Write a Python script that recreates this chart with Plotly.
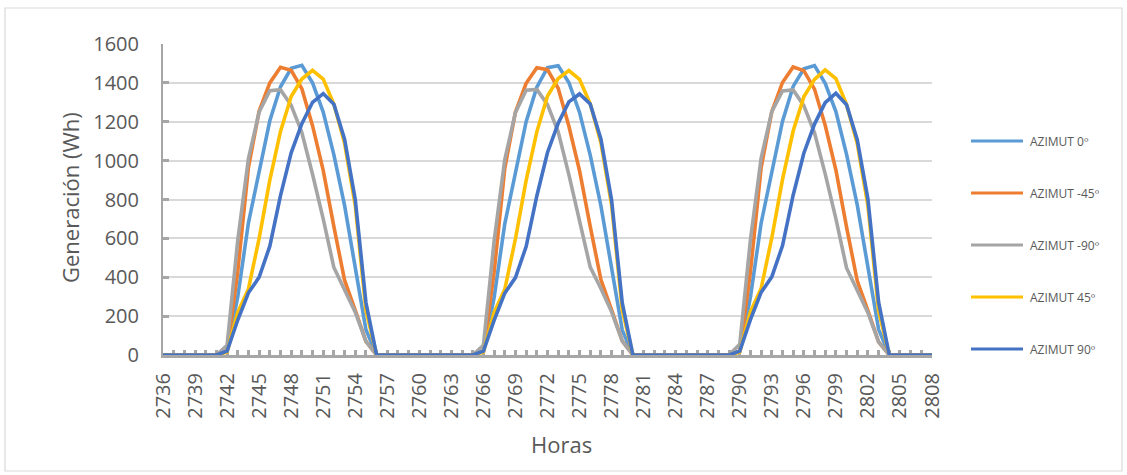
import plotly.graph_objects as go

# Hours on the x axis (2736 .. 2808)
horas = list(range(2736, 2809))
tick_horas = list(range(2736, 2809, 3))

# Hourly generation (Wh) per azimuth, three consecutive days plus the closing hour
az_0_d1 = [0, 0, 0, 0, 0, 0, 20, 300, 680, 950, 1205, 1380, 1475, 1490, 1400, 1250, 1030, 770, 450, 130, 0, 0, 0, 0]
az_0_d2 = [0, 0, 0, 0, 0, 0, 20, 295, 675, 945, 1200, 1378, 1478, 1488, 1402, 1248, 1028, 768, 448, 128, 0, 0, 0, 0]
az_0_d3 = [0, 0, 0, 0, 0, 0, 20, 298, 678, 948, 1202, 1382, 1472, 1489, 1398, 1252, 1032, 772, 452, 132, 0, 0, 0, 0]

az_m45_d1 = [0, 0, 0, 0, 0, 0, 20, 430, 965, 1255, 1400, 1480, 1465, 1370, 1180, 950, 660, 385, 230, 70, 0, 0, 0, 0]
az_m45_d2 = [0, 0, 0, 0, 0, 0, 20, 425, 960, 1250, 1398, 1478, 1468, 1372, 1178, 948, 662, 388, 232, 72, 0, 0, 0, 0]
az_m45_d3 = [0, 0, 0, 0, 0, 0, 20, 428, 962, 1252, 1402, 1482, 1463, 1368, 1182, 952, 658, 382, 228, 68, 0, 0, 0, 0]

az_m90_d1 = [0, 0, 0, 0, 0, 0, 50, 590, 1010, 1250, 1360, 1365, 1285, 1145, 930, 700, 450, 340, 220, 70, 0, 0, 0, 0]
az_m90_d2 = [0, 0, 0, 0, 0, 0, 50, 585, 1005, 1248, 1362, 1366, 1288, 1148, 928, 698, 452, 342, 222, 72, 0, 0, 0, 0]
az_m90_d3 = [0, 0, 0, 0, 0, 0, 55, 592, 1012, 1252, 1358, 1364, 1283, 1143, 932, 702, 448, 338, 218, 68, 0, 0, 0, 0]

az_45_d1 = [0, 0, 0, 0, 0, 0, 15, 220, 340, 600, 900, 1150, 1330, 1420, 1465, 1420, 1290, 1090, 770, 230, 0, 0, 0, 0]
az_45_d2 = [0, 0, 0, 0, 0, 0, 15, 218, 338, 598, 898, 1148, 1332, 1422, 1463, 1418, 1292, 1092, 772, 232, 0, 0, 0, 0]
az_45_d3 = [0, 0, 0, 0, 0, 0, 15, 222, 342, 602, 902, 1152, 1328, 1418, 1467, 1422, 1288, 1088, 768, 228, 0, 0, 0, 0]

az_90_d1 = [0, 0, 0, 0, 0, 0, 20, 180, 320, 400, 560, 820, 1040, 1190, 1300, 1345, 1290, 1110, 800, 270, 0, 0, 0, 0]
az_90_d2 = [0, 0, 0, 0, 0, 0, 20, 178, 318, 398, 558, 818, 1042, 1192, 1302, 1343, 1292, 1112, 798, 268, 0, 0, 0, 0]
az_90_d3 = [0, 0, 0, 0, 0, 0, 20, 182, 322, 402, 562, 822, 1038, 1188, 1298, 1347, 1288, 1108, 802, 272, 0, 0, 0, 0]

cierre = [0]

series_names = ["AZIMUT 0º", "AZIMUT -45º", "AZIMUT -90º", "AZIMUT 45º", "AZIMUT 90º"]
series_values = [
    az_0_d1 + az_0_d2 + az_0_d3 + cierre,
    az_m45_d1 + az_m45_d2 + az_m45_d3 + cierre,
    az_m90_d1 + az_m90_d2 + az_m90_d3 + cierre,
    az_45_d1 + az_45_d2 + az_45_d3 + cierre,
    az_90_d1 + az_90_d2 + az_90_d3 + cierre,
]
series_colors = ["#5B9BD5", "#ED7D31", "#A5A5A5", "#FFC000", "#4472C4"]

W, H = 1127, 475
L, R, T, B = 163, 195, 44, 120
plot_w = W - L - R
plot_h = H - T - B


def px_to_paper_x(x):
    return (x - L) / plot_w


def px_to_paper_y(y):
    return (H - B - y) / plot_h


FONT = "Open Sans"
TEXT = "#595959"
AXIS = "#A6A6A6"
GRID = "#D9D9D9"

fig = go.Figure()
for name, vals, col in zip(series_names, series_values, series_colors):
    fig.add_trace(go.Scatter(
        x=horas, y=vals, mode="lines", name=name,
        line=dict(color=col, width=3.6),
        showlegend=False,
    ))

fig.update_layout(
    width=W, height=H,
    margin=dict(l=L, r=R, t=T, b=B),
    paper_bgcolor="white", plot_bgcolor="white",
    font=dict(family=FONT, color=TEXT),
    xaxis=dict(
        range=[2736, 2808], tickmode="array", tickvals=tick_horas,
        ticktext=[str(h) for h in tick_horas],
        tickangle=-90, tickfont=dict(size=20, color=TEXT, family=FONT),
        showgrid=False, zeroline=False,
        showline=True, linecolor=AXIS, linewidth=3,
        ticks="inside", ticklen=5, tickwidth=2.5, tickcolor=AXIS,
        minor=dict(dtick=1, tick0=2736, ticks="inside", ticklen=5,
                   tickwidth=2.5, tickcolor=AXIS, showgrid=False),
        ticklabelstandoff=7,
        layer="below traces",
    ),
    yaxis=dict(
        range=[0, 1600], dtick=200, tick0=0,
        tickfont=dict(size=20, color=TEXT, family=FONT),
        showgrid=True, gridcolor=GRID, gridwidth=1.5, zeroline=False,
        showline=True, linecolor=AXIS, linewidth=2,
        ticks="inside", ticklen=6, tickwidth=2.5, tickcolor=AXIS,
        ticklabelstandoff=18,
        layer="below traces",
    ),
)

# Outer chart border
fig.add_shape(type="rect", xref="paper", yref="paper",
              x0=px_to_paper_x(5), x1=px_to_paper_x(1122),
              y0=px_to_paper_y(471), y1=px_to_paper_y(8),
              line=dict(color=GRID, width=1.2), fillcolor="rgba(0,0,0,0)", layer="below")

# Axis titles
fig.add_annotation(text="Generación (Wh)", xref="paper", yref="paper",
                   x=px_to_paper_x(70), y=px_to_paper_y(198), textangle=-90,
                   showarrow=False, font=dict(size=22, color=TEXT, family=FONT),
                   xanchor="center", yanchor="middle")
fig.add_annotation(text="Horas", xref="paper", yref="paper",
                   x=px_to_paper_x(561), y=px_to_paper_y(444),
                   showarrow=False, font=dict(size=22, color=TEXT, family=FONT),
                   xanchor="center", yanchor="middle")

# Legend on the right
legend_y = [141, 193, 245, 297, 349]
for name, col, ly in zip(series_names, series_colors, legend_y):
    fig.add_shape(type="line", xref="paper", yref="paper",
                  x0=px_to_paper_x(971), x1=px_to_paper_x(1023),
                  y0=px_to_paper_y(ly), y1=px_to_paper_y(ly),
                  line=dict(color=col, width=3))
    fig.add_annotation(text=name, xref="paper", yref="paper",
                       x=px_to_paper_x(1028), y=px_to_paper_y(ly),
                       showarrow=False, xanchor="left", yanchor="middle",
                       font=dict(size=12, color=TEXT, family=FONT))

fig.write_html("out.html")
